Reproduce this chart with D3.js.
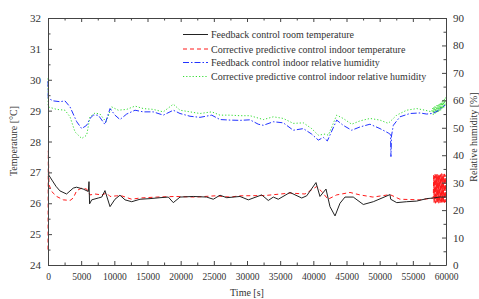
<!DOCTYPE html>
<html>
<head>
<meta charset="utf-8">
<script src="https://cdn.jsdelivr.net/npm/d3@7"></script>
<style>
  html, body { margin: 0; padding: 0; background: #fff; }
  svg { display: block; font-family: "Liberation Serif", "Times New Roman", serif; }
</style>
</head>
<body>
<svg width="479" height="299"></svg>
<script>
// feedback control room temperature [s, °C]
const feedbackTemp = [
  [0, 26.95], [600, 26.75], [1200, 26.55], [1800, 26.4], [2800, 26.3], [3800, 26.49],
  [4300, 26.52], [5300, 26.46], [6080, 26.38], [6180, 26.7], [6270, 25.98], [6590, 26.11],
  [7580, 26.17], [8100, 26.2], [8590, 26.41], [9350, 25.89], [10100, 26.13], [10850, 26.26],
  [11610, 26.11], [12620, 26.05], [13870, 26.13], [15380, 26.15], [16880, 26.18], [18140, 26.2],
  [18890, 26.02], [19900, 26.2], [21900, 26.22], [23920, 26.2], [24920, 26.13], [25930, 26.26],
  [26940, 26.18], [28940, 26.22], [30200, 26.11], [32220, 26.27], [33210, 26.09], [33970, 26.2],
  [34720, 26.13], [36480, 26.35], [38250, 26.17], [39000, 26.24], [40400, 26.67], [41000, 26.22],
  [41910, 26.46], [42510, 25.89], [43270, 25.59], [44020, 26.0], [44770, 26.2], [46020, 26.2],
  [47530, 25.96], [49040, 26.05], [51560, 26.28], [51660, 26.13], [52570, 26.02], [54070, 26.05],
  [55580, 26.07], [57090, 26.15], [58080, 26.17], [59000, 26.2], [59900, 26.2]
];

// corrective predictive control indoor temperature [s, °C]
const predictiveTemp = [
  [0, 24.5], [50, 27.7], [150, 26.6], [560, 26.38], [1310, 26.22], [2310, 26.11], [3320, 26.09],
  [3810, 26.17], [4330, 26.41], [5080, 26.49], [5830, 26.46], [6330, 26.27], [7090, 26.3],
  [8100, 26.27], [8850, 26.33], [9350, 26.22], [10360, 26.24], [11110, 26.24], [12620, 26.13],
  [13870, 26.17], [16390, 26.2], [19150, 26.22], [22160, 26.2], [25180, 26.24], [27440, 26.2],
  [28940, 26.24], [32710, 26.25], [36480, 26.33], [38740, 26.3], [40500, 26.54], [41260, 26.38],
  [42210, 26.13], [43520, 26.27], [45530, 26.35], [47030, 26.27], [48990, 26.2], [51560, 26.28],
  [53060, 26.13], [56080, 26.11], [58080, 26.17],
  [58150, 26.92], [58200, 26.02], [58250, 26.88], [58300, 26.05], [58350, 26.95], [58400, 26.0],
  [58450, 26.9], [58500, 26.08], [58550, 26.93], [58600, 26.03], [58650, 26.86], [58700, 26.01],
  [58750, 26.94], [58800, 26.06], [58850, 26.9], [58900, 26.0], [58950, 26.95], [59000, 26.04],
  [59050, 26.89], [59100, 26.02], [59150, 26.93], [59200, 26.07], [59250, 26.91], [59300, 26.0],
  [59350, 26.96], [59400, 26.03], [59450, 26.88], [59500, 26.05], [59550, 26.94], [59600, 26.01],
  [59650, 26.9], [59700, 26.06], [59750, 26.95], [59800, 26.02], [59850, 26.92], [59900, 26.04],
  [59950, 26.9]
];

// feedback control indoor relative humidity [s, %]
const feedbackRH = [
  [0, 67], [30, 61], [50, 60.7], [800, 59.8], [1810, 59.5], [2560, 59.8], [3320, 57.6],
  [4330, 52.2], [5080, 49.7], [5830, 50.9], [6330, 53.4], [6830, 54.6], [7580, 54.6],
  [8590, 51.2], [9350, 57.0], [10100, 54.6], [10850, 53.0], [11860, 55.0], [13120, 56.4],
  [14370, 55.8], [15870, 55.8], [17380, 54.6], [18890, 56.4], [19900, 55.2], [21410, 54.2],
  [22910, 53.8], [24680, 54.6], [25930, 53.0], [27440, 52.8], [28940, 52.7], [30450, 52.9],
  [31700, 51.3], [32460, 50.9], [33970, 52.2], [35470, 51.8], [36980, 49.1], [38490, 49.7],
  [39750, 47.7], [40750, 45.5], [41500, 46.5], [42110, 45.2], [43520, 52.8], [44500, 50.9],
  [45780, 49.1], [47030, 50.3], [48540, 51.3], [50050, 49.7], [51300, 48.1], [51640, 47.5],
  [51700, 39.5], [51780, 47], [52060, 50.9], [53060, 54.0], [54570, 55.2], [56080, 55.4],
  [57090, 55.0], [57840, 55.2], [58640, 56.0], [59850, 58.2]
];

// corrective predictive control indoor relative humidity [s, %]
const predictiveRH = [
  [0, 68], [30, 58], [50, 57.6], [1310, 56.7], [2560, 56.4], [3320, 54.0], [4070, 48.5],
  [5080, 46.1], [5830, 47.3], [6330, 54.0], [7090, 55.4], [7840, 55.0], [8740, 52.2],
  [9600, 57.6], [10600, 56.4], [11860, 56.7], [13120, 57.9], [14370, 57.0], [15870, 56.7],
  [17380, 55.8], [18890, 58.6], [19900, 56.4], [21410, 55.8], [22910, 55.2], [24680, 55.8],
  [25930, 54.6], [27440, 54.6], [28940, 54.4], [30450, 54.4], [32460, 53.0], [33970, 54.0],
  [35470, 53.4], [36980, 51.6], [38490, 51.8], [39750, 49.7], [40750, 47.3], [41760, 47.7],
  [42260, 47.3], [43520, 54.6], [44500, 53.4], [45780, 51.3], [47030, 52.5], [48540, 53.4],
  [50050, 52.8], [51300, 51.6], [52570, 54.6], [54070, 56.4], [55580, 57.0], [56830, 56.4],
  [57840, 55.8],
  [58000, 57.2], [58080, 54.8], [58160, 57.5], [58240, 55.0], [58320, 57.8], [58400, 55.3],
  [58480, 57.6], [58560, 55.5], [58640, 58.2], [58720, 55.6], [58800, 58.4], [58880, 55.9],
  [58960, 58.6], [59040, 56.2], [59120, 59.0], [59200, 56.4], [59280, 59.3], [59360, 56.7],
  [59440, 59.6], [59520, 57.0], [59600, 60.0], [59680, 57.3], [59760, 60.5], [59840, 57.8],
  [59920, 61.0]
];

const xTicks = d3.range(0, 60001, 5000);
const tempTicks = d3.range(24, 33, 1);
const rhTicks = d3.range(0, 91, 10);

const legendLabels = [
  "Feedback control room temperature",
  "Corrective predictive control indoor temperature",
  "Feedback control indoor relative humidity",
  "Corrective predictive control indoor relative humidity"
];

const margin = { left: 48, right: 446, top: 18, bottom: 265 };
const axisColor = "#444";
const serif = "'Liberation Serif', 'Times New Roman', serif";

const svg = d3.select("svg");

const x = d3.scaleLinear().domain([0, 60000]).range([margin.left, margin.right]);
const yT = d3.scaleLinear().domain([24, 32]).range([margin.bottom, margin.top]);
const yH = d3.scaleLinear().domain([0, 90]).range([margin.bottom, margin.top]);

const series = [
  { data: feedbackTemp, y: yT, color: "#222", dash: null },
  { data: predictiveTemp, y: yT, color: "#ff1a1a", dash: "4,3" },
  { data: feedbackRH, y: yH, color: "#2233ff", dash: "6,2,1.5,2" },
  { data: predictiveRH, y: yH, color: "#33dd33", dash: "1.2,2" }
];

// series lines
const lines = svg.append("g");
lines.selectAll("path")
  .data([series[3], series[2], series[1], series[0]])
  .join("path")
  .attr("fill", "none")
  .attr("stroke", d => d.color)
  .attr("stroke-width", 1)
  .attr("stroke-dasharray", d => d.dash)
  .attr("d", d => d3.line().x(p => x(p[0])).y(p => d.y(p[1]))(d.data));

// axes
function styleAxis(g) {
  g.attr("font-family", serif);
  g.selectAll("path, line").attr("stroke", axisColor);
  g.selectAll("text").attr("fill", "#333");
}

const minorX = d3.range(2500, 60000, 5000);

svg.append("g")
  .attr("transform", `translate(0,${margin.bottom})`)
  .call(d3.axisBottom(x).tickValues(xTicks).tickSizeInner(-4).tickSizeOuter(0).tickPadding(8).tickFormat(d3.format("d")))
  .call(g => g.attr("font-size", 9.5))
  .call(styleAxis);
svg.append("g")
  .attr("transform", `translate(0,${margin.bottom})`)
  .call(d3.axisBottom(x).tickValues(minorX).tickSize(-2.5).tickFormat(""))
  .call(g => g.select(".domain").remove())
  .call(styleAxis);

svg.append("g")
  .attr("transform", `translate(0,${margin.top})`)
  .call(d3.axisTop(x).tickValues(xTicks).tickSizeInner(-4).tickSizeOuter(0).tickFormat(""))
  .call(styleAxis);
svg.append("g")
  .attr("transform", `translate(0,${margin.top})`)
  .call(d3.axisTop(x).tickValues(minorX).tickSize(-2.5).tickFormat(""))
  .call(g => g.select(".domain").remove())
  .call(styleAxis);

svg.append("g")
  .attr("transform", `translate(${margin.left},0)`)
  .call(d3.axisLeft(yT).tickValues(tempTicks).tickSizeInner(-4).tickSizeOuter(0).tickPadding(7).tickFormat(d3.format("d")))
  .call(g => g.attr("font-size", 11))
  .call(styleAxis);
svg.append("g")
  .attr("transform", `translate(${margin.left},0)`)
  .call(d3.axisLeft(yT).tickValues(d3.range(24.5, 32, 1)).tickSize(-2.5).tickFormat(""))
  .call(g => g.select(".domain").remove())
  .call(styleAxis);

svg.append("g")
  .attr("transform", `translate(${margin.right},0)`)
  .call(d3.axisRight(yH).tickValues(rhTicks).tickSizeInner(-4).tickSizeOuter(0).tickPadding(7).tickFormat(d3.format("d")))
  .call(g => g.attr("font-size", 11))
  .call(styleAxis);
svg.append("g")
  .attr("transform", `translate(${margin.right},0)`)
  .call(d3.axisRight(yH).tickValues(d3.range(5, 90, 10)).tickSize(-2.5).tickFormat(""))
  .call(g => g.select(".domain").remove())
  .call(styleAxis);

// axis titles
svg.append("text")
  .attr("x", (margin.left + margin.right) / 2)
  .attr("y", 296)
  .attr("text-anchor", "middle")
  .attr("font-family", serif)
  .attr("font-size", 10)
  .attr("fill", "#333")
  .text("Time [s]");

svg.append("text")
  .attr("transform", `translate(17,141) rotate(-90)`)
  .attr("text-anchor", "middle")
  .attr("font-family", serif)
  .attr("font-size", 10)
  .attr("fill", "#333")
  .text("Temperature [°C]");

svg.append("text")
  .attr("transform", `translate(476.5,137) rotate(-90)`)
  .attr("text-anchor", "middle")
  .attr("font-family", serif)
  .attr("font-size", 10)
  .attr("fill", "#333")
  .text("Relative humidity [%]");

// legend
const legendRows = [34.5, 49, 62.5, 76.5];
const legend = svg.append("g").attr("font-family", serif);
legendLabels.forEach((label, i) => {
  const s = series[i];
  legend.append("line")
    .attr("x1", 183).attr("x2", 208)
    .attr("y1", legendRows[i]).attr("y2", legendRows[i])
    .attr("stroke", s.color)
    .attr("stroke-width", 1)
    .attr("stroke-dasharray", s.dash);
  legend.append("text")
    .attr("x", 211)
    .attr("y", legendRows[i] + 3.5)
    .attr("font-size", 10)
    .attr("fill", "#333")
    .text(label);
});
</script>
</body>
</html>
